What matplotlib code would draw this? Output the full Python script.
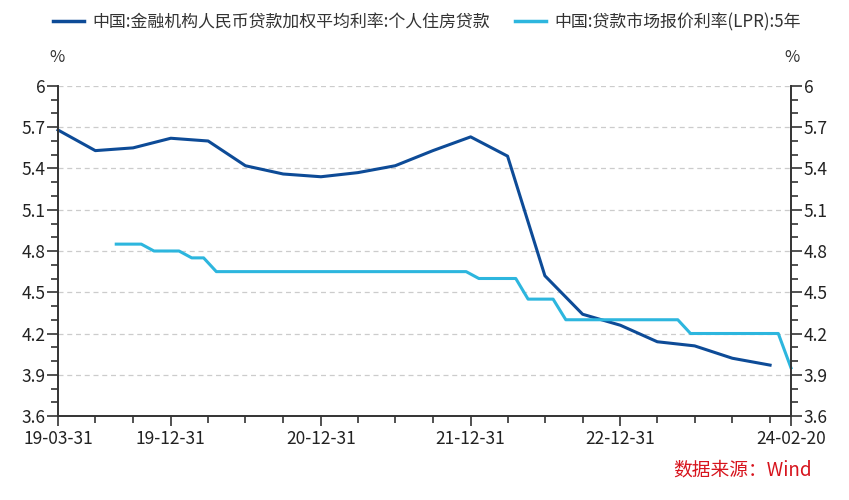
import matplotlib
matplotlib.use("Agg")
import matplotlib.pyplot as plt
import matplotlib.dates as mdates
from matplotlib.ticker import MultipleLocator, FixedLocator, FixedFormatter
from matplotlib.lines import Line2D
import pandas as pd

plt.rcParams['font.family'] = ['Noto Sans CJK SC', 'DejaVu Sans']

# ---- data ----
mortgage_dates = ["2019-03-31", "2019-06-30", "2019-09-30", "2019-12-31",
                  "2020-03-31", "2020-06-30", "2020-09-30", "2020-12-31",
                  "2021-03-31", "2021-06-30", "2021-09-30", "2021-12-31",
                  "2022-03-31", "2022-06-30", "2022-09-30", "2022-12-31",
                  "2023-03-31", "2023-06-30", "2023-09-30", "2023-12-31"]
mortgage_rate = [5.68, 5.53, 5.55, 5.62,
                 5.60, 5.42, 5.36, 5.34,
                 5.37, 5.42, 5.53, 5.63,
                 5.49, 4.62, 4.34, 4.26,
                 4.14, 4.11, 4.02, 3.97]

lpr_first_month = "2019-08-01"   # LPR published on the 20th of each month
lpr_5y = [4.85, 4.85, 4.85, 4.80, 4.80,                      # 2019 Aug-Dec
          4.80, 4.75, 4.75, 4.65, 4.65, 4.65, 4.65, 4.65, 4.65, 4.65, 4.65, 4.65,  # 2020
          4.65, 4.65, 4.65, 4.65, 4.65, 4.65, 4.65, 4.65, 4.65, 4.65, 4.65, 4.65,  # 2021
          4.60, 4.60, 4.60, 4.60, 4.45, 4.45, 4.45, 4.30, 4.30, 4.30, 4.30, 4.30,  # 2022
          4.30, 4.30, 4.30, 4.30, 4.30, 4.20, 4.20, 4.20, 4.20, 4.20, 4.20, 4.20,  # 2023
          4.20, 3.95]                                         # 2024 Jan-Feb

x_start = "2019-03-31"
x_end = "2024-02-20"
x_labels = ["19-03-31", "19-12-31", "20-12-31", "21-12-31", "22-12-31", "24-02-20"]
x_label_dates = ["2019-03-31", "2019-12-31", "2020-12-31", "2021-12-31", "2022-12-31", "2024-02-20"]

series_names = ["中国:金融机构人民币贷款加权平均利率:个人住房贷款", "中国:贷款市场报价利率(LPR):5年"]
source_text = "数据来源：Wind"

# ---- styling ----
c_dark = "#0D4B97"
c_light = "#2DB6DE"
c_axis = "#333333"

m_dates = pd.to_datetime(mortgage_dates)
l_dates = pd.date_range(lpr_first_month, periods=len(lpr_5y), freq="MS") + pd.Timedelta(days=19)

fig = plt.figure(figsize=(8.49, 5.0), dpi=100)
ax = fig.add_axes([58/849, 84/500, (791-58)/849, 330/500])

ax.plot(m_dates, mortgage_rate, color=c_dark, lw=2.2, solid_joinstyle='round', clip_on=False)
ax.plot(l_dates, lpr_5y, color=c_light, lw=2.2, solid_joinstyle='round', clip_on=False)

ax.set_xlim(pd.Timestamp(x_start), pd.Timestamp(x_end))
ax.set_ylim(3.6, 6.0)

# y ticks
ax.yaxis.set_major_locator(MultipleLocator(0.3))
ax.yaxis.set_minor_locator(MultipleLocator(0.1))
ax.yaxis.set_major_formatter(matplotlib.ticker.FuncFormatter(lambda v, p: f"{v:g}" if abs(v-6) < 1e-6 else f"{v:.1f}"))
ax.tick_params(axis='y', which='both', left=True, right=True, labelleft=True, labelright=True,
               direction='out', color=c_axis, width=1.2, labelsize=12.5, labelcolor='#222222', pad=1)
ax.tick_params(axis='y', which='major', length=8)
ax.tick_params(axis='y', which='minor', length=5)

# x ticks
quarter_ticks = pd.date_range("2019-03-31", "2023-12-31", freq="QE")
ax.xaxis.set_major_locator(FixedLocator(mdates.date2num(pd.to_datetime(x_label_dates))))
ax.xaxis.set_major_formatter(FixedFormatter(x_labels))
ax.xaxis.set_minor_locator(FixedLocator(mdates.date2num(quarter_ticks)))
ax.tick_params(axis='x', which='both', direction='out', color=c_axis, width=1.2,
               labelsize=12.5, labelcolor='#222222')
ax.tick_params(axis='x', which='major', length=7, pad=3)
ax.tick_params(axis='x', which='minor', length=5)

for s in ['left', 'right', 'bottom']:
    ax.spines[s].set_color(c_axis)
    ax.spines[s].set_linewidth(1.4)
ax.spines['top'].set_visible(False)

ax.grid(axis='y', which='major', color='#CCCCCC', linestyle=(0, (4, 3)), lw=0.9)
ax.set_axisbelow(True)

# % labels
fig.text(57/849, 1 - 57/500, "%", ha='center', va='center', fontsize=12, color='#333333')
fig.text(792/849, 1 - 57/500, "%", ha='center', va='center', fontsize=12, color='#333333')

# legend
handles = [Line2D([], [], color=c_dark, lw=2.5), Line2D([], [], color=c_light, lw=2.5)]
fig.legend(handles, series_names, loc='center', bbox_to_anchor=(427/849, 1 - 22/500), ncol=2,
           frameon=False, fontsize=12.2, handlelength=1.8, handletextpad=0.5, columnspacing=1.5,
           labelcolor='#333333')

fig.text(812/849, 1 - 470/500, source_text, ha='right', va='center', fontsize=13.5, color='#D7141D')

fig.savefig("out.png", dpi=100)
